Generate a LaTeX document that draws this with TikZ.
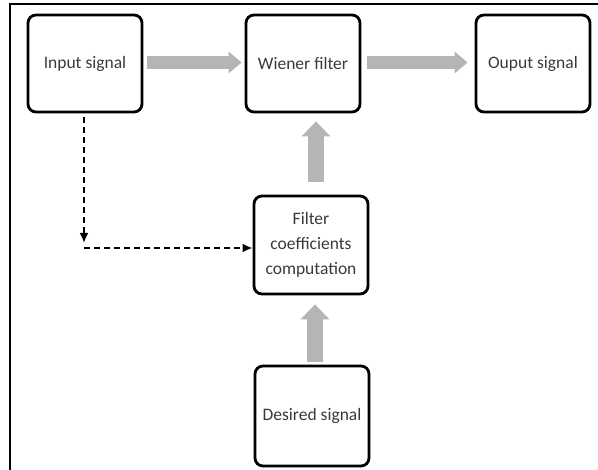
\documentclass[tikz,border=0pt]{standalone}
\usepackage{fontspec}
\setmainfont{Carlito}
\usetikzlibrary{arrows.meta,calc}
\definecolor{txt}{HTML}{3A3A3A}
\definecolor{arr}{HTML}{B5B5B5}
\tikzset{
  blk/.style={draw=black, line width=2.8pt, rounded corners=8pt, fill=white,
    minimum width=114pt, inner sep=0pt, align=center, text=txt,
    font=\fontsize{17.5}{25}\selectfont},
  fath/.style={draw=arr, line width=13pt, -{Triangle[length=13pt,width=21pt]}},
  fatv/.style={draw=arr, line width=16pt, -{Triangle[length=15pt,width=28pt]}},
  dsh/.style={dash pattern=on 6pt off 4pt, line width=2.2pt, -{Latex[length=10pt,width=9pt]}}
}
\begin{document}
\begin{tikzpicture}[x=1pt,y=-1pt]
\useasboundingbox (0,0) rectangle (598,470);
\fill[white] (0,0) rectangle (598,470);
\draw[line width=2pt] (10,470) -- (10,4) -- (598,4);
% boxes
\node[blk, minimum height=97pt] (in) at (85,63.5) {Input signal};
\node[blk, minimum height=97pt] (wf) at (303,63.5) {Wiener filter};
\node[blk, minimum height=97pt] (out) at (533,63.5) {Ouput signal};
\node[blk, minimum height=98pt] (fc) at (311,245) {Filter\\coefficients\\computation};
\node[blk, minimum height=100pt] (ds) at (312,416) {Desired signal};
% fat arrows
\draw[fath] ($(in.east)+(4,-1)$) -- ($(wf.west)+(-3,-1)$);
\draw[fath] ($(wf.east)+(6,-1)$) -- ($(out.west)+(-7,-1)$);
\draw[fatv] ($(fc.north)+(5,-13)$) -- ($(wf.south)+(13,8)$);
\draw[fatv] ($(ds.north)+(3,-3)$) -- ($(fc.south)+(4,9)$);
% dashed feed
\coordinate (c) at (84,248);
\draw[dsh] (in.south -| c) ++(0,4) -- ($(c)+(0,-5)$);
\draw[dsh] (c) -- (fc.west |- c);
\end{tikzpicture}
\end{document}
